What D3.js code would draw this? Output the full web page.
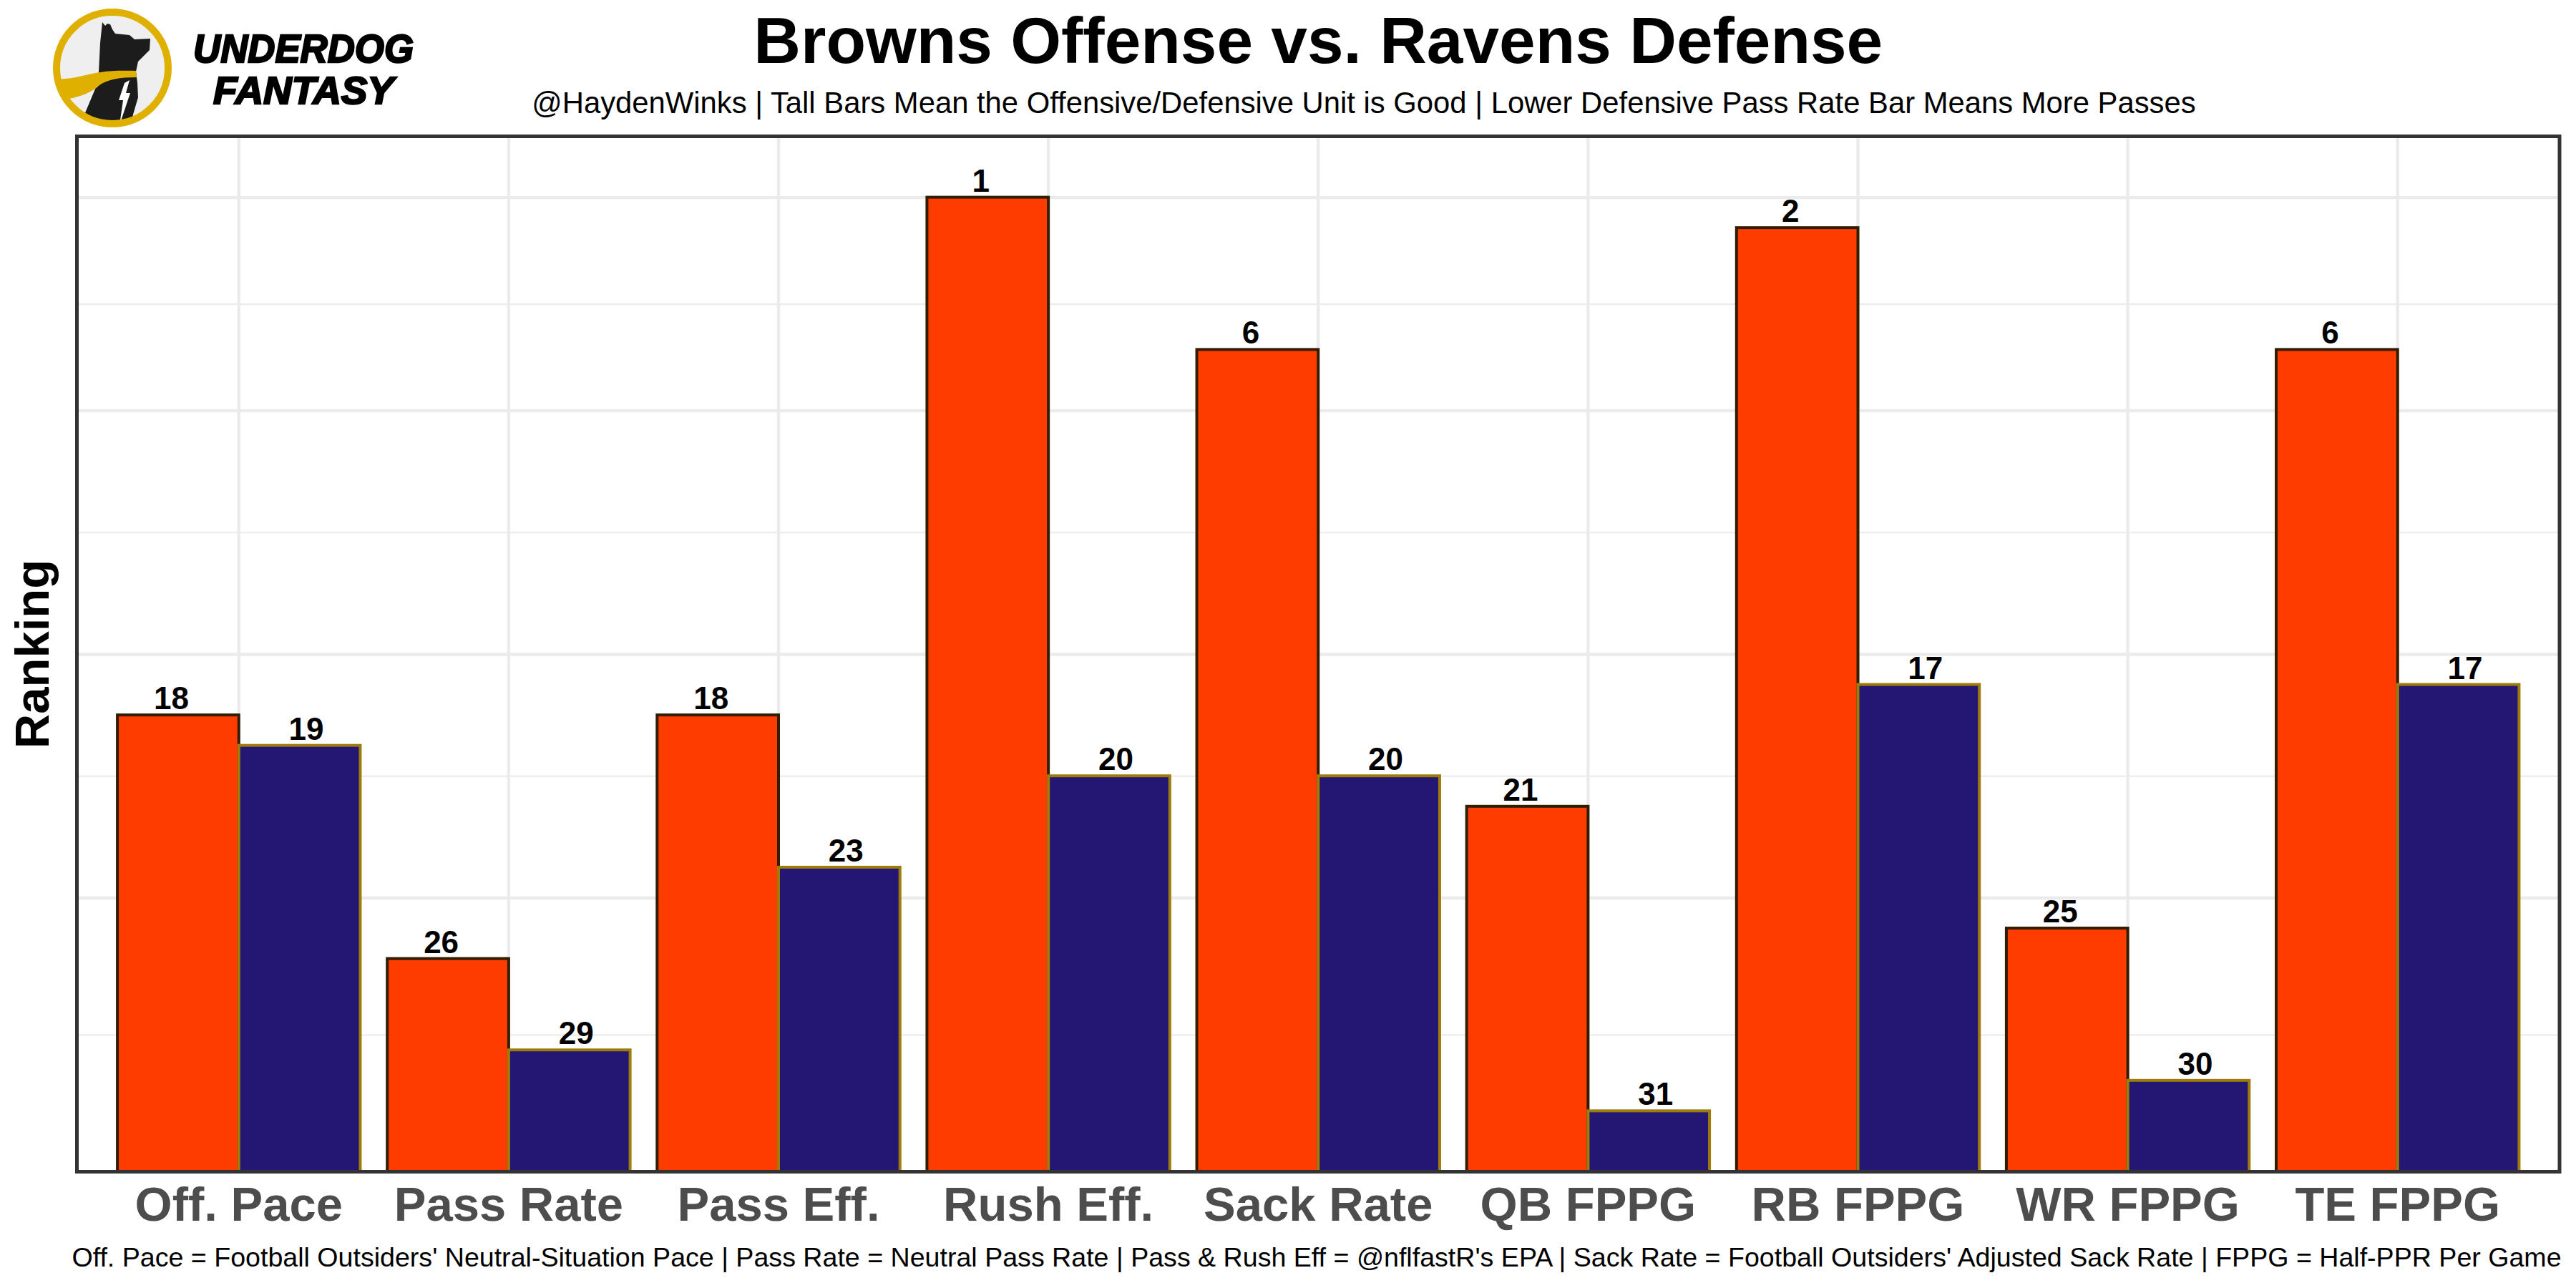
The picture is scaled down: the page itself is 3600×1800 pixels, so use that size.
<!DOCTYPE html>
<html>
<head>
<meta charset="utf-8">
<script src="https://cdn.jsdelivr.net/npm/d3@7"></script>
<style>
  html, body { margin: 0; padding: 0; background: #ffffff; }
  svg { display: block; }
</style>
</head>
<body>
<svg id="chart" width="3600" height="1800"></svg>
<script>
// ---------------- DATA ----------------
const categories = ["Off. Pace", "Pass Rate", "Pass Eff.", "Rush Eff.", "Sack Rate", "QB FPPG", "RB FPPG", "WR FPPG", "TE FPPG"];
const offenseRanks = [18, 26, 18, 1, 6, 21, 2, 25, 6];   // Browns offense
const defenseRanks = [19, 29, 23, 20, 20, 31, 17, 30, 17]; // Ravens defense
const rankBase = 33;            // bar height = rankBase - rank
const yMax = 34;
const majorBreaks = [0, 9, 17, 25, 32];
const minorBreaks = [4.5, 13, 21, 28.5];

const titleText = "Browns Offense vs. Ravens Defense";
const subtitleText = "@HaydenWinks | Tall Bars Mean the Offensive/Defensive Unit is Good | Lower Defensive Pass Rate Bar Means More Passes";
const captionText = "Off. Pace = Football Outsiders' Neutral-Situation Pace | Pass Rate = Neutral Pass Rate | Pass & Rush Eff = @nflfastR's EPA | Sack Rate = Football Outsiders' Adjusted Sack Rate | FPPG = Half-PPR Per Game";
const yLabel = "Ranking";

// ---------------- LAYOUT ----------------
const svg = d3.select("#chart");
const FONT = "'Liberation Sans', Arial, Helvetica, sans-serif";
const px0 = 107.5, px1 = 3577, py0 = 190.5, py1 = 1637.5;

const x = d3.scaleBand().domain(categories).range([px0, px1]).paddingInner(0.1).paddingOuter(0.15);
const sub = d3.scaleBand().domain(["off", "def"]).range([0, x.bandwidth()]);
const y = d3.scaleLinear().domain([0, yMax]).range([py1, py0]);

const rows = categories.map((c, i) => ({ cat: c, off: offenseRanks[i], def: defenseRanks[i] }));

// panel background
svg.append("rect").attr("x", px0).attr("y", py0).attr("width", px1 - px0).attr("height", py1 - py0).attr("fill", "#ffffff");

// gridlines
const gMinor = svg.append("g").attr("transform", `translate(${px0},0)`)
  .call(d3.axisLeft(y).tickValues(minorBreaks).tickSize(-(px1 - px0)).tickFormat(""));
gMinor.select(".domain").remove();
gMinor.selectAll("line").attr("stroke", "#ebebeb").attr("stroke-width", 2.2);

const gMajor = svg.append("g").attr("transform", `translate(${px0},0)`)
  .call(d3.axisLeft(y).tickValues(majorBreaks).tickSize(-(px1 - px0)).tickFormat(""));
gMajor.select(".domain").remove();
gMajor.selectAll("line").attr("stroke", "#ebebeb").attr("stroke-width", 4.4);

const gX = svg.append("g").attr("transform", `translate(0,${py1})`)
  .call(d3.axisBottom(x).tickSize(-(py1 - py0)).tickFormat(""));
gX.select(".domain").remove();
gX.selectAll("line").attr("stroke", "#ebebeb").attr("stroke-width", 4.4);

// bars
const groups = svg.append("g").selectAll("g").data(rows).join("g")
  .attr("transform", d => `translate(${x(d.cat)},0)`);

groups.append("rect")
  .attr("x", sub("off")).attr("width", sub.bandwidth())
  .attr("y", d => y(rankBase - d.off)).attr("height", d => y(0) - y(rankBase - d.off))
  .attr("fill", "#ff3c00").attr("stroke", "#311d00").attr("stroke-width", 4);

groups.append("rect")
  .attr("x", sub("def")).attr("width", sub.bandwidth())
  .attr("y", d => y(rankBase - d.def)).attr("height", d => y(0) - y(rankBase - d.def))
  .attr("fill", "#241773").attr("stroke", "#9e7c0c").attr("stroke-width", 4);

// value labels (dodged at width 1)
const step = x.step();
const center = c => x(c) + x.bandwidth() / 2;
const labels = svg.append("g").attr("font-family", FONT).attr("font-weight", "bold")
  .attr("font-size", 44).attr("text-anchor", "middle").attr("fill", "#000");
labels.selectAll("text.off").data(rows).join("text").attr("class", "off")
  .attr("x", d => center(d.cat) - step / 4).attr("y", d => y(rankBase - d.off) - 8)
  .text(d => d.off);
labels.selectAll("text.def").data(rows).join("text").attr("class", "def")
  .attr("x", d => center(d.cat) + step / 4).attr("y", d => y(rankBase - d.def) - 8)
  .text(d => d.def);

// panel border
svg.append("rect").attr("x", px0).attr("y", py0).attr("width", px1 - px0).attr("height", py1 - py0)
  .attr("fill", "none").attr("stroke", "#333333").attr("stroke-width", 5);

// x axis labels
svg.append("g").selectAll("text").data(categories).join("text")
  .attr("x", d => center(d)).attr("y", 1706)
  .attr("text-anchor", "middle").attr("font-family", FONT).attr("font-weight", "bold")
  .attr("font-size", 67).attr("fill", "#4d4d4d").text(d => d);

// y label
svg.append("text").attr("transform", `translate(68,${(py0 + py1) / 2}) rotate(-90)`)
  .attr("text-anchor", "middle").attr("font-family", FONT).attr("font-weight", "bold")
  .attr("font-size", 67).attr("fill", "#000").text(yLabel);

// title, subtitle, caption
svg.append("text").attr("x", (px0 + px1) / 2).attr("y", 88).attr("text-anchor", "middle")
  .attr("font-family", FONT).attr("font-weight", "bold").attr("font-size", 91).attr("fill", "#000").text(titleText);
svg.append("text").attr("x", 1906).attr("y", 158).attr("text-anchor", "middle")
  .attr("font-family", FONT).attr("font-size", 41.8).attr("fill", "#000").text(subtitleText);
svg.append("text").attr("x", 1840).attr("y", 1770).attr("text-anchor", "middle")
  .attr("font-family", FONT).attr("font-size", 37.6).attr("fill", "#000").text(captionText);

// ---------------- LOGO ----------------
const logo = svg.append("g");
const cx = 157, cy = 95;
const defs = svg.append("defs");
defs.append("clipPath").attr("id", "logoClip").append("circle").attr("cx", cx).attr("cy", cy).attr("r", 78);
logo.append("circle").attr("cx", cx).attr("cy", cy).attr("r", 78).attr("fill", "#efefef");
const inner = logo.append("g").attr("clip-path", "url(#logoClip)");
inner.append("path")
  .attr("d", "M143,31 L147,36 L150,33 L154,34 L157,41 L161,47 L181,49 L188,55 L210,54 L209,70 L193,86 L190,100 L192,116 L193,136 L186,160 L183,180 L110,180 L118,160 L134,122 L138,100 L140,60 Z")
  .attr("fill", "#1c1c1c");
inner.append("path")
  .attr("d", "M70,109 C95,114 118,104 140,101 C160,98 176,99 190,99 L191,108 C168,108 150,111 139,119 C128,130 110,136 90,139 L70,142 Z")
  .attr("fill", "#e0b000");
inner.append("path")
  .attr("d", "M174,116 L181,112 L176,130 L182,130 L167,175 L172,140 L166,140 Z")
  .attr("fill", "#ffffff");
logo.append("circle").attr("cx", cx).attr("cy", cy).attr("r", 78).attr("fill", "none")
  .attr("stroke", "#e0b000").attr("stroke-width", 10);

logo.append("text").attr("x", 424).attr("y", 87).attr("text-anchor", "middle")
  .attr("font-family", FONT).attr("font-weight", "bold").attr("font-style", "italic")
  .attr("font-size", 56).attr("stroke", "#000").attr("stroke-width", 2.5).attr("fill", "#000")
  .attr("textLength", 308).attr("lengthAdjust", "spacingAndGlyphs").text("UNDERDOG");
logo.append("text").attr("x", 424).attr("y", 145).attr("text-anchor", "middle")
  .attr("font-family", FONT).attr("font-weight", "bold").attr("font-style", "italic")
  .attr("font-size", 54).attr("stroke", "#000").attr("stroke-width", 2.5).attr("fill", "#000")
  .attr("textLength", 252).attr("lengthAdjust", "spacingAndGlyphs").text("FANTASY");
</script>
</body>
</html>
